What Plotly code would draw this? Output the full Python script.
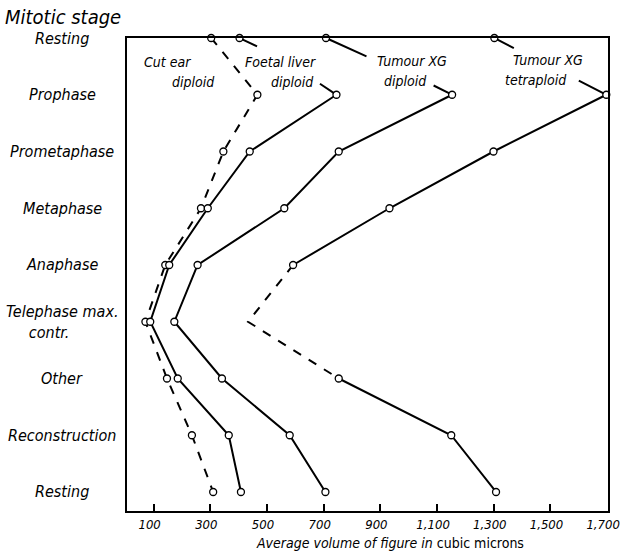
import plotly.graph_objects as go

# ---- data ----
stages = ["Resting", "Prophase", "Prometaphase", "Metaphase", "Anaphase",
          "Telephase max.<br>&nbsp;&nbsp;&nbsp;&nbsp;&nbsp;contr.", "Other", "Reconstruction", "Resting"]
cut_ear = [303, 466, 346, 267, 141, 71, 147, 235, 310]
foetal_liver = [403, 745, 439, 291, 155, 88, 185, 365, 408]
xg_diploid = [708, 1153, 753, 561, 255, 173, 341, 580, 706]
xg_tetraploid = [1302, 1697, 1299, 932, 592, 433, 753, 1150, 1308]

label_lines = [["Cut ear", "diploid"], ["Foetal liver", "diploid"],
               ["Tumour XG", "diploid"], ["Tumour XG", "tetraploid"]]

x_ticks = [100, 300, 500, 700, 900, 1100, 1300, 1500, 1700]
x_tick_text = ["100", "300", "500", "700", "900", "1,100", "1,300", "1,500", "1,700"]

y_title = "Mitotic stage"
x_title = "<i>Average volume of figure in</i> cubic microns"

FONT = "Liberation Sans Narrow, DejaVu Sans Condensed, DejaVu Sans, sans-serif"
ypos = list(range(len(stages)))

fig = go.Figure()

def seg(vals, i0, i1, dash):
    fig.add_trace(go.Scatter(x=vals[i0:i1 + 1], y=ypos[i0:i1 + 1], mode="lines",
                             line=dict(color="black", width=2, dash=dash),
                             cliponaxis=False, hoverinfo="skip", showlegend=False))

def marks(vals, skip=()):
    xs = [v for i, v in enumerate(vals) if i not in skip]
    ys = [y for i, y in enumerate(ypos) if i not in skip]
    fig.add_trace(go.Scatter(x=xs, y=ys, mode="markers",
                             marker=dict(symbol="circle", size=7, color="white",
                                         line=dict(color="black", width=1.3)),
                             cliponaxis=False, showlegend=False))

# Cut ear diploid: dashed all along
seg(cut_ear, 0, 8, "dash")
# Foetal liver, Tumour XG diploid: solid from prophase
seg(foetal_liver, 1, 8, "solid")
seg(xg_diploid, 1, 8, "solid")
# Tumour XG tetraploid: solid / dashed / solid
seg(xg_tetraploid, 1, 4, "solid")
seg(xg_tetraploid, 4, 6, "dash")
seg(xg_tetraploid, 6, 8, "solid")

marks(cut_ear)
marks(foetal_liver)
marks(xg_diploid)
marks(xg_tetraploid, skip=(5,))

ann = []
# stage labels
for i, s in enumerate(stages):
    ann.append(dict(x=-0.1345, xref="paper", y=i, yref="y", text=s, showarrow=False,
                    xanchor="center", yanchor="middle", align="left",
                    font=dict(family=FONT, size=16, color="black", style="italic")))
ann.append(dict(x=-0.257, xref="paper", y=1.044, yref="paper", text=y_title, showarrow=False,
                xanchor="left", yanchor="middle",
                font=dict(family=FONT, size=20, color="black", style="italic")))
ann.append(dict(x=0.547, xref="paper", y=-0.068, yref="paper", text=x_title, showarrow=False,
                xanchor="center", yanchor="middle",
                font=dict(family=FONT, size=14, color="black")))

# series labels (two lines each)
label_pos = [[(148, 0.42), (240, 0.78)], [(547, 0.42), (589, 0.78)],
             [(1013, 0.41), (989, 0.76)], [(1493, 0.39), (1448, 0.74)]]
for lines, pos in zip(label_lines, label_pos):
    for t, (lx, ly) in zip(lines, pos):
        ann.append(dict(x=lx, y=ly, xref="x", yref="y", text=t, showarrow=False,
                        xanchor="center", yanchor="middle",
                        font=dict(family=FONT, size=14, color="black", style="italic")))

# leader lines: (series values, stage index, ax, ay)
leaders = [(foetal_liver, 1, -18, -12), (xg_diploid, 1, -20, -10), (xg_tetraploid, 1, -29, -15),
           (foetal_liver, 0, 19, 9), (xg_diploid, 0, 42, 19), (xg_tetraploid, 0, 21, 11)]
for vals, idx, ax, ay in leaders:
    ann.append(dict(x=vals[idx], y=idx, xref="x", yref="y", text=" ", showarrow=True,
                    arrowhead=0, arrowwidth=2, arrowcolor="black", ax=ax, ay=ay,
                    standoff=3, font=dict(size=1)))

fig.update_layout(
    width=622, height=559,
    margin=dict(l=127, r=14, t=38, b=48),
    paper_bgcolor="white", plot_bgcolor="white",
    annotations=ann,
    xaxis=dict(range=[6, 1703], tickvals=x_ticks, ticktext=x_tick_text,
               ticks="inside", ticklen=7, tickwidth=1.5, tickcolor="black",
               ticklabeloverflow="allow", automargin=False, ticklabelshift=-4,
               showgrid=False, zeroline=False, showline=True, mirror=True,
               linecolor="black", linewidth=2,
               tickfont=dict(family=FONT, size=13, color="black", style="italic")),
    yaxis=dict(range=[8.335, 0], showticklabels=False, ticks="", automargin=False,
               showgrid=False, zeroline=False, showline=True, mirror=True,
               linecolor="black", linewidth=2),
)

fig.write_html("out.html", config={"displayModeBar": False},
               post_script="document.body.style.margin='0';document.body.style.padding='0';")
